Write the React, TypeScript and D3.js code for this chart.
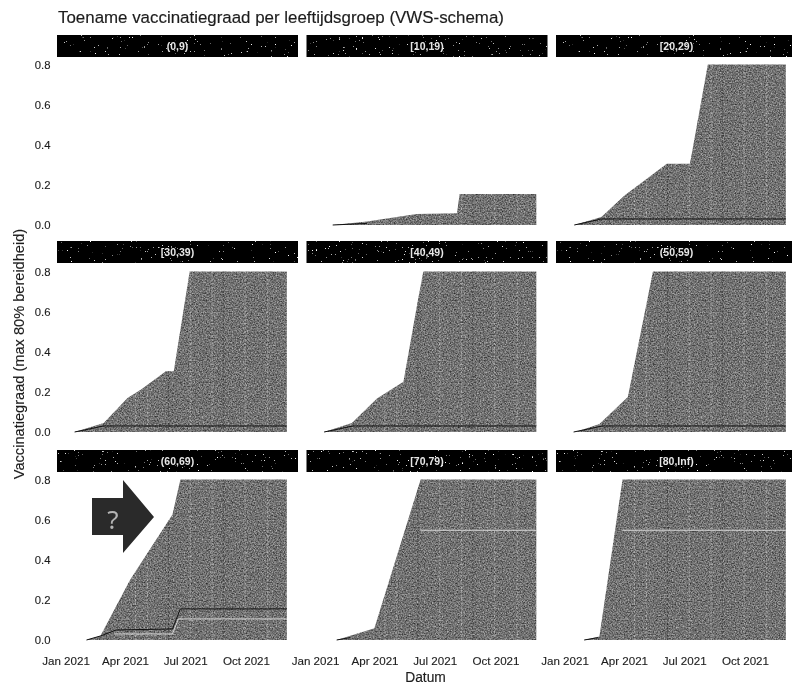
import React from "react";
import * as d3 from "d3";

const TITLE = "Toename vaccinatiegraad per leeftijdsgroep (VWS-schema)";
const facetLabels = ["(0,9)", "[10,19)", "[20,29)", "[30,39)", "[40,49)", "(50,59)", "(60,69)", "[70,79)", "[80,Inf)"];
const xTicks = ["2021-01-01", "2021-04-01", "2021-07-01", "2021-10-01"];
const xTickLabels = ["Jan 2021", "Apr 2021", "Jul 2021", "Oct 2021"];
const yTicks = [0, 0.2, 0.4, 0.6, 0.8];
const END = "2021-12-01";

type P = [string, number];
const a10: P[] = [["2021-01-27", 0], ["2021-03-20", 0.018], ["2021-06-03", 0.055], ["2021-08-03", 0.058], ["2021-08-07", 0.155], [END, 0.155]];
const a20: P[] = [["2021-01-15", 0], ["2021-02-25", 0.04], ["2021-04-01", 0.147], ["2021-06-04", 0.305], ["2021-07-09", 0.305], ["2021-08-05", 0.8], [END, 0.8]];
const a30: P[] = [["2021-01-14", 0], ["2021-02-27", 0.045], ["2021-04-04", 0.17], ["2021-04-24", 0.21], ["2021-06-01", 0.303], ["2021-06-13", 0.303], ["2021-07-07", 0.8], [END, 0.8]];
const a40: P[] = [["2021-01-14", 0], ["2021-02-25", 0.045], ["2021-04-04", 0.167], ["2021-05-14", 0.25], ["2021-06-04", 0.64], ["2021-06-13", 0.8], [END, 0.8]];
const a50: P[] = [["2021-01-17", 0], ["2021-02-22", 0.04], ["2021-04-06", 0.175], ["2021-05-14", 0.8], [END, 0.8]];
const a60: P[] = [["2021-02-01", 0], ["2021-02-22", 0.02], ["2021-04-08", 0.3], ["2021-06-11", 0.625], ["2021-06-23", 0.8], [END, 0.8]];
const a70: P[] = [["2021-02-02", 0], ["2021-03-31", 0.058], ["2021-06-09", 0.8], [END, 0.8]];
const a80: P[] = [["2021-01-30", 0], ["2021-02-22", 0.018], ["2021-03-29", 0.8], [END, 0.8]];
const areas: P[][] = [[], a10, a20, a30, a40, a50, a60, a70, a80];

const dark10: P[] = [["2021-01-27", 0], ["2021-03-20", 0.008]];
const dark20: P[] = [["2021-01-15", 0], ["2021-02-25", 0.03], [END, 0.03]];
const dark30: P[] = [["2021-01-14", 0], ["2021-02-27", 0.03], [END, 0.03]];
const dark60: P[] = [["2021-02-01", 0], ["2021-02-22", 0.02], ["2021-03-18", 0.05], ["2021-06-11", 0.055], ["2021-06-23", 0.155], [END, 0.155]];
const dark70: P[] = [["2021-02-02", 0], ["2021-02-22", 0.012]];
const dark80: P[] = [["2021-01-30", 0], ["2021-02-20", 0.012]];
const darkLines: P[][] = [[], dark10, dark20, dark30, dark30, dark30, dark60, dark70, dark80];
const white60: P[] = [["2021-03-15", 0.03], ["2021-06-11", 0.03], ["2021-06-20", 0.105], [END, 0.105]];
const white70: P[] = [["2021-06-09", 0.547], [END, 0.547]];
const white80: P[] = [["2021-03-29", 0.547], [END, 0.547]];
const whiteLines: P[][] = [[], [], [], [], [], [], white60, white70, white80];

const gridDates = ["2021-04-16", "2021-05-04", "2021-06-05", "2021-07-08", "2021-08-10", "2021-08-27", "2021-09-29", "2021-11-02"];

const parse = d3.utcParse("%Y-%m-%d");
const colX = [57, 306.5, 556];
const rowStripTop = [35, 241, 450];
const rowY0 = [225, 432, 640];
const font = "Liberation Sans, Arial, sans-serif";
const ink = "#1c1c1c";

export default function App() {
  const x = d3.scaleUtc().domain([parse("2021-01-01")!, parse("2021-10-01")!]).range([9, 189.5]);
  return (
    <svg width={792} height={688} style={{ position: "absolute", left: 0, top: 0, background: "#fff" }} fontFamily={font}>
      <defs>
        <filter id="grain" x="0" y="0" width="100%" height="100%" colorInterpolationFilters="sRGB">
          <feTurbulence type="fractalNoise" baseFrequency="0.73" numOctaves={2} seed={7} result="n" />
          <feColorMatrix in="n" type="matrix" values="0.75 0 0 0 0.07  0.75 0 0 0 0.07  0.75 0 0 0 0.07  0 0 0 0 1" result="g" />
          <feComposite in="g" in2="SourceAlpha" operator="in" />
        </filter>
        <filter id="speck" x="0" y="0" width="100%" height="100%">
          <feTurbulence type="fractalNoise" baseFrequency="0.7" numOctaves={2} seed={4} />
          <feColorMatrix type="matrix" values="0 0 0 0 1  0 0 0 0 1  0 0 0 0 1  6 6 0 0 -8" />
          <feComposite in2="SourceGraphic" operator="over" />
        </filter>
        <filter id="soft"><feGaussianBlur stdDeviation={0.35} /></filter>
      </defs>
      <g filter="url(#soft)" fill={ink} stroke={ink} strokeWidth={0.15}>
        <text x={58} y={23} fontSize={16.9}>{TITLE}</text>
        <text transform="translate(24,354) rotate(-90)" textAnchor="middle" fontSize={14.6}>Vaccinatiegraad (max 80% bereidheid)</text>
        <text x={425.5} y={682} textAnchor="middle" fontSize={13.8}>Datum</text>
      </g>
      {facetLabels.map((label, i) => {
        const col = i % 3;
        const row = Math.floor(i / 3);
        const y = d3.scaleLinear().domain([0, 0.8]).range([rowY0[row], rowY0[row] - 160.5]);
        const area = d3.area<P>().x(d => x(parse(d[0])!)).y0(y(0)).y1(d => y(d[1]));
        const line = d3.line<P>().x(d => x(parse(d[0])!)).y(d => y(d[1]));
        const clipId = `clip${i}`;
        const pts = areas[i];
        return (
          <g key={label} transform={`translate(${colX[col]},0)`}>
            <g filter="url(#speck)">
              <rect x={0} y={rowStripTop[row]} width={col === 2 ? 236 : 241} height={22} fill="#000" />
            </g>
            <text x={120.5} y={rowStripTop[row] + 14.5} textAnchor="middle" fontSize={10.5} fontWeight="bold" fill="#e6e6e6" filter="url(#soft)">{label}</text>
            <g filter="url(#soft)" fill={ink} stroke={ink} strokeWidth={0.12}>
              {col === 0 && yTicks.map(t => (
                <text key={t} x={-6.5} y={y(t) + 4} textAnchor="end" fontSize={11.3}>{t.toFixed(1)}</text>
              ))}
              {row === 2 && xTicks.map((t, k) => (
                <text key={t} x={x(parse(t)!)} y={665} textAnchor="middle" fontSize={11.6}>{xTickLabels[k]}</text>
              ))}
            </g>
            {pts.length > 0 && (
              <>
                <clipPath id={clipId}><path d={area(pts)!} /></clipPath>
                <path d={area(pts)!} fill="#777" filter="url(#grain)" />
                <g clipPath={`url(#${clipId})`}>
                  {gridDates.map((m, k) => (
                    <line key={m} x1={x(parse(m)!)} x2={x(parse(m)!)} y1={y(0.8)} y2={y(0)}
                      stroke={k % 3 === 2 ? "#111" : "#f2f2f2"} strokeWidth={1} strokeDasharray="1 3" opacity={0.8} />
                  ))}
                </g>
                {darkLines[i].length > 0 && <path d={line(darkLines[i])!} fill="none" stroke="#111" strokeWidth={1} />}
                {whiteLines[i].length > 0 && <path d={line(whiteLines[i])!} fill="none" stroke="#d8d8d8" strokeWidth={1} />}
              </>
            )}
          </g>
        );
      })}
      <path d="M92,498 L123,498 L123,480 L154,517 L123,553 L123,535 L92,535 Z" fill="#2a2a2a" />
      <text x={113} y={529} textAnchor="middle" fontSize={26} fill="#b4b4b4" fontFamily="Noto Sans, sans-serif">?</text>
    </svg>
  );
}
